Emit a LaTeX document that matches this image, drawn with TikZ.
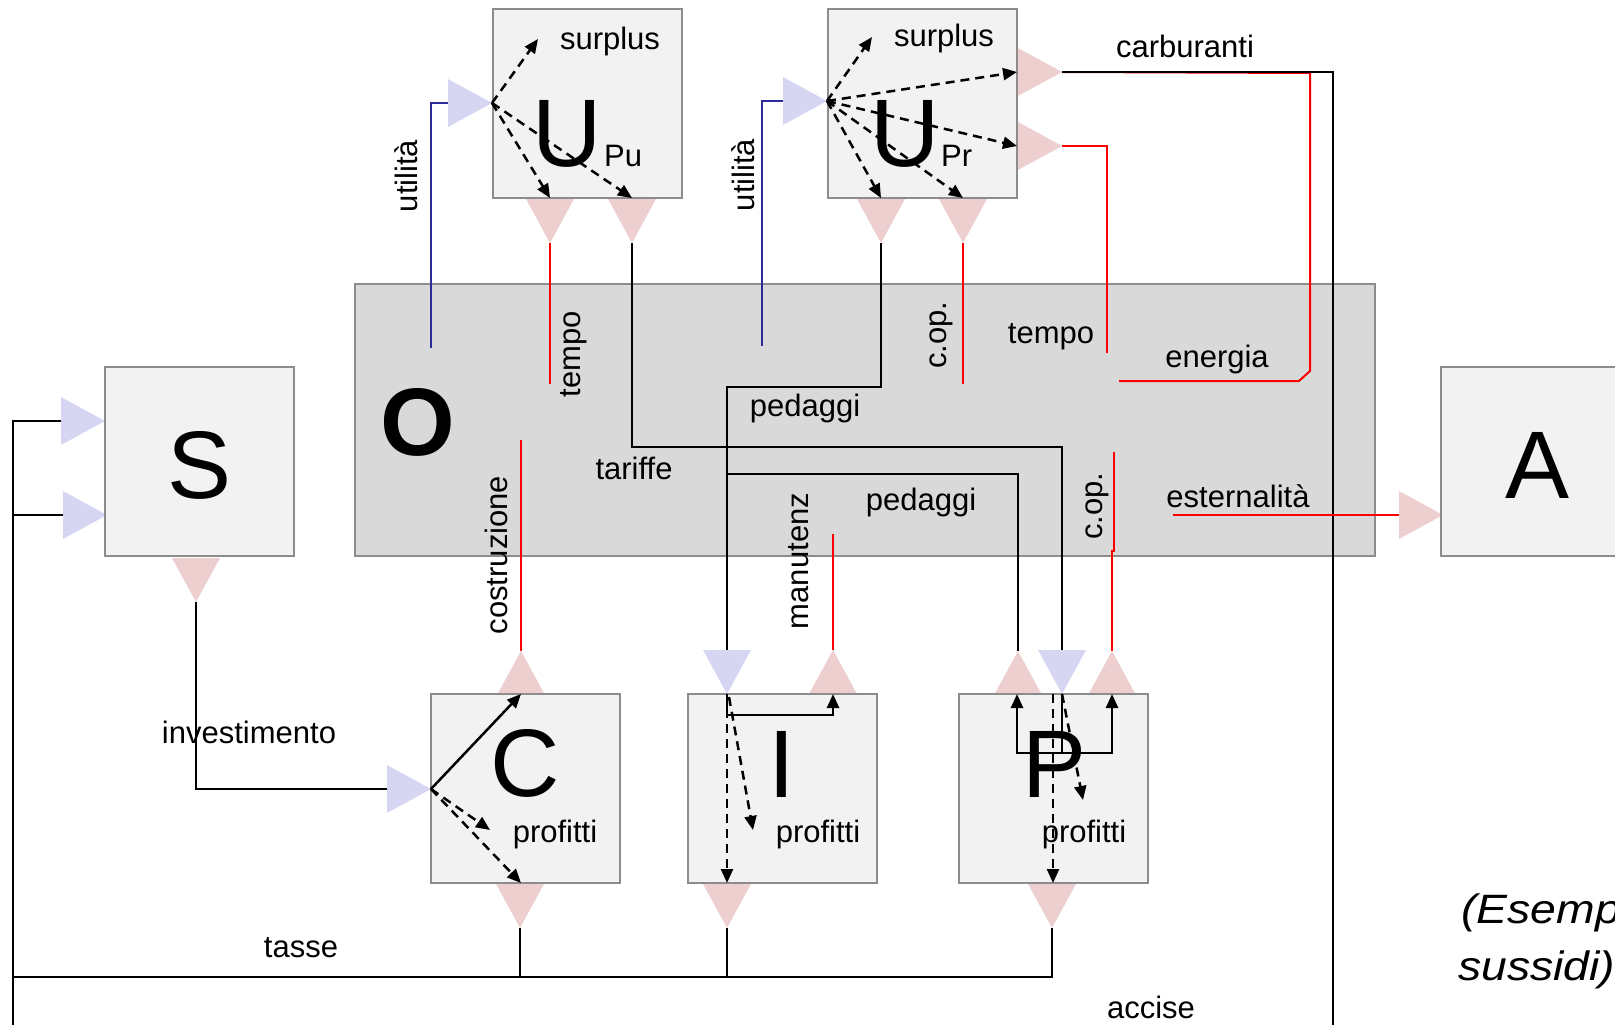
\documentclass[tikz,border=0pt]{standalone}
\usepackage{fontspec}
\setmainfont{Liberation Sans}
\newfontfamily\notefont[FakeStretch=1.13]{Liberation Sans}
\usetikzlibrary{arrows.meta}
\definecolor{boxfill}{HTML}{F2F2F2}
\definecolor{boxline}{HTML}{8C8C8C}
\definecolor{ofill}{HTML}{D9D9D9}
\definecolor{inblue}{HTML}{D6D6F3}
\definecolor{outred}{HTML}{EDCFCF}
\definecolor{navyflow}{HTML}{2B2B9B}
\definecolor{redflow}{HTML}{FF0000}
\tikzset{
  pics/inport/.style={code={\fill[inblue] (0,0) -- (-44,-24) -- (-44,24) -- cycle;}},
  pics/outport/.style={code={\fill[outred] (0,0) -- (-44,-24) -- (-44,24) -- cycle;}},
}
\begin{document}
\begin{tikzpicture}[x=1pt,y=-1pt,
  block/.style={draw=boxline, fill=boxfill, line width=2pt, minimum width=189pt,
    minimum height=189pt, inner sep=0pt},
  big/.style={font=\fontsize{96}{100}\selectfont, inner sep=0pt, anchor=base},
  lbl/.style={font=\fontsize{31}{37}\selectfont, inner sep=0pt, anchor=base},
  vlbl/.style={font=\fontsize{31}{37}\selectfont, inner sep=0pt, rotate=90},
  note/.style={font=\notefont\fontsize{41}{54}\selectfont\itshape, inner sep=0pt, anchor=base west},
  flow/.style={draw=black, line width=2pt},
  redline/.style={draw=redflow, line width=2pt},
  blueline/.style={draw=navyflow, line width=2pt},
  dasharrow/.style={line width=2.5pt, dash pattern=on 9pt off 6pt,
    -{Triangle[length=14pt,width=12pt]}},
  solidarrow/.style={line width=2.5pt, -{Triangle[length=14pt,width=12pt]}},
]
\useasboundingbox (0,0) rectangle (1615,1025);
\clip (0,0) rectangle (1615,1025);

% --- central block O ---
\node[block, fill=ofill, minimum width=1020pt, minimum height=272pt] (O) at (865,420) {};

% --- port coordinates: triangle tips and the outer ends used by the flows ---
\coordinate (upu-in-tip) at (492,103);  \coordinate (upu-in) at (448,103);
\coordinate (upu-o1) at (550,243);      \coordinate (upu-o2) at (632,243);
\coordinate (upr-in-tip) at (827,101);  \coordinate (upr-in) at (783,101);
\coordinate (upr-r1) at (1062,72);      \coordinate (upr-r2) at (1062,146);
\coordinate (upr-o1) at (881,243);      \coordinate (upr-o2) at (963,243);
\coordinate (s-in1-tip) at (105,421);   \coordinate (s-in1) at (61,421);
\coordinate (s-in2-tip) at (107,515);   \coordinate (s-in2) at (63,515);
\coordinate (s-out) at (196,602);
\coordinate (a-in-tip) at (1443,515);   \coordinate (a-in) at (1399,515);
\coordinate (c-in-tip) at (431,789);    \coordinate (c-in) at (387,789);
\coordinate (c-up) at (521,651);        \coordinate (c-down) at (520,928);
\coordinate (i-in-tip) at (727,694);    \coordinate (i-in) at (727,650);
\coordinate (i-up) at (833,650);        \coordinate (i-down) at (727,928);
\coordinate (p-in-tip) at (1062,694);   \coordinate (p-in) at (1062,650);
\coordinate (p-up1) at (1018,651);      \coordinate (p-up2) at (1112,651);
\coordinate (p-down) at (1052,928);

% free ends and junctions of the flows
\coordinate (util1-end) at (431,348);
\coordinate (util2-end) at (762,346);
\coordinate (tempo1-end) at (550,384);
\coordinate (costr-end) at (521,440);
\coordinate (cop1-end) at (963,384);
\coordinate (tempo2-end) at (1107,353);
\coordinate (energia-end) at (1119,381);
\coordinate (manut-end) at (833,534);
\coordinate (cop2-end) at (1114,452);
\coordinate (ext-start) at (1173,515);
\coordinate (ped-join) at (727,474);
\coordinate (tasse-left) at (13,977);
\coordinate (bottom-left) at (13,1040);
\coordinate (bottom-right) at (1333,1040);

% --- blue flows (utilità) ---
\draw[blueline] (util1-end) |- (upu-in);
\draw[blueline] (util2-end) |- (upr-in);

% --- red flows ---
\draw[redline] (upu-o1) -- (tempo1-end);
\draw[redline] (c-up) -- (costr-end);
\draw[redline] (upr-o2) -- (cop1-end);
\draw[redline] (upr-r2) -| (tempo2-end);
\draw[redline] (upr-r1) -- (1310,73) -- (1310,371) -- (1299,381) -- (energia-end);
\draw[redline] (i-up) -- (manut-end);
\draw[redline] (p-up2) -- (1112,551) -- (1114,551) -- (cop2-end);

% --- black flows ---
\draw[flow] (upu-o2) |- (1062,447) -- (p-in);
\draw[flow] (upr-o1) |- (727,387) -- (i-in);
\draw[flow] (ped-join) -| (p-up1);
\draw[flow] (upr-r1) -| (bottom-right);
\draw[flow] (s-out) |- (c-in);
\draw[flow] (p-down) |- (tasse-left) |- (s-in2);
\draw[flow] (c-down) -- (c-down |- tasse-left);
\draw[flow] (i-down) -- (i-down |- tasse-left);
\draw[flow] (s-in1) -| (bottom-left);
\draw[redline] (ext-start) -- (a-in);

% --- ports ---
\pic at (upu-in-tip) {inport};
\pic[rotate=-90] at (upu-o1) {outport};
\pic[rotate=-90] at (upu-o2) {outport};
\pic at (upr-in-tip) {inport};
\pic at (upr-r1) {outport};
\pic at (upr-r2) {outport};
\pic[rotate=-90] at (upr-o1) {outport};
\pic[rotate=-90] at (upr-o2) {outport};
\pic at (s-in1-tip) {inport};
\pic at (s-in2-tip) {inport};
\pic[rotate=-90] at (s-out) {outport};
\pic at (a-in-tip) {outport};
\pic at (c-in-tip) {inport};
\pic[rotate=90] at (c-up) {outport};
\pic[rotate=-90] at (c-down) {outport};
\pic[rotate=-90] at (i-in-tip) {inport};
\pic[rotate=90] at (i-up) {outport};
\pic[rotate=-90] at (i-down) {outport};
\pic[rotate=-90] at (p-in-tip) {inport};
\pic[rotate=90] at (p-up1) {outport};
\pic[rotate=90] at (p-up2) {outport};
\pic[rotate=-90] at (p-down) {outport};

% --- blocks ---
\node[block] (Upu) at (587,103.5) {};
\node[block] (Upr) at (922,103.5) {};
\node[block] (S) at (199.5,461.5) {};
\node[block] (A) at (1535.5,461.5) {};
\node[block] (C) at (525,788.5) {};
\node[block] (I) at (782,788.5) {};
\node[block] (P) at (1053.5,788.5) {};

% --- block letters ---
\node[big] (Upu-t) at (567,166) {U};
\node[lbl, anchor=base west] (Upu-s) at (604,166) {Pu};
\node[big] (Upr-t) at (905,166) {U};
\node[lbl, anchor=base west] (Upr-s) at (941,166) {Pr};
\node[big, font=\fontsize{96}{100}\selectfont\bfseries] (O-t) at (418,455) {O};
\node[big] (S-t) at (200,498) {S};
\node[big] (A-t) at (1537,498) {A};
\node[big] (C-t) at (525,796) {C};
\node[big] (I-t) at (782,797) {I};
\node[big] (P-t) at (1055,797) {P};

% --- labels ---
\node[lbl] (surp1) at (610,50) {surplus};
\node[lbl] (surp2) at (944,47) {surplus};
\node[lbl] (carb) at (1185,58) {carburanti};
\node[vlbl] (util1) at (406,176) {utilità};
\node[vlbl] (util2) at (743,175) {utilità};
\node[vlbl] (tempo1) at (574,354) {tempo};
\node[vlbl] (costr) at (496,555) {costruzione};
\node[lbl] (tariffe) at (634,479) {tariffe};
\node[lbl] (ped1) at (805,416) {pedaggi};
\node[lbl] (ped2) at (921,510) {pedaggi};
\node[vlbl] (manut) at (799,561) {manutenz};
\node[vlbl] (cop1) at (941,335) {c.op.};
\node[vlbl] (cop2) at (1097,506) {c.op.};
\node[lbl] (tempo2) at (1051,343) {tempo};
\node[lbl] (energia) at (1217,367) {energia};
\node[lbl] (ester) at (1238,507) {esternalità};
\node[lbl] (invest) at (249,743) {investimento};
\node[lbl] (tasse) at (301,957) {tasse};
\node[lbl] (accise) at (1151,1018) {accise};
\node[lbl] (prof-c) at (555,842) {profitti};
\node[lbl] (prof-i) at (818,842) {profitti};
\node[lbl] (prof-p) at (1084,842) {profitti};
\node[note] (note1) at (1461,923) {(Esempio};
\node[note] (note2) at (1458,980) {sussidi)};

% --- flows inside the blocks ---
\coordinate (upu-a1) at (538,39);
\coordinate (upu-a2) at (550,198);
\coordinate (upu-a3) at (632,198);
\draw[dasharrow] (upu-in-tip) -- (upu-a1);
\draw[dasharrow] (upu-in-tip) -- (upu-a2);
\draw[dasharrow] (upu-in-tip) -- (upu-a3);

\coordinate (upr-a1) at (872,37);
\coordinate (upr-a2) at (1017,72);
\coordinate (upr-a3) at (1017,146);
\coordinate (upr-a4) at (881,198);
\coordinate (upr-a5) at (963,198);
\draw[dasharrow] (upr-in-tip) -- (upr-a1);
\draw[dasharrow] (upr-in-tip) -- (upr-a2);
\draw[dasharrow] (upr-in-tip) -- (upr-a3);
\draw[dasharrow] (upr-in-tip) -- (upr-a4);
\draw[dasharrow] (upr-in-tip) -- (upr-a5);

\coordinate (c-a1) at (521,694);
\coordinate (c-a2) at (490,830);
\coordinate (c-a3) at (521,883);
\draw[solidarrow] (c-in-tip) -- (c-a1);
\draw[dasharrow] (c-in-tip) -- (c-a2);
\draw[dasharrow] (c-in-tip) -- (c-a3);

\coordinate (i-a1) at (833,694);
\coordinate (i-a2) at (727,883);
\coordinate (i-a3) at (753,830);
\draw[solidarrow] (i-in-tip) -- (727,715) -| (i-a1);
\draw[dasharrow] (i-in-tip) -- (i-a2);
\draw[dasharrow] (729,697) -- (i-a3);

\coordinate (p-a1) at (1017,694);
\coordinate (p-a2) at (1112,694);
\coordinate (p-a3) at (1053,883);
\coordinate (p-a4) at (1083,800);
\draw[line width=2.5pt] (p-in-tip) -- (1062,753);
\draw[solidarrow] (1064,753) -| (p-a1);
\draw[solidarrow] (1060,753) -| (p-a2);
\draw[dasharrow] (1053,694) -- (p-a3);
\draw[dasharrow] (p-in-tip) -- (p-a4);
\end{tikzpicture}
\end{document}
